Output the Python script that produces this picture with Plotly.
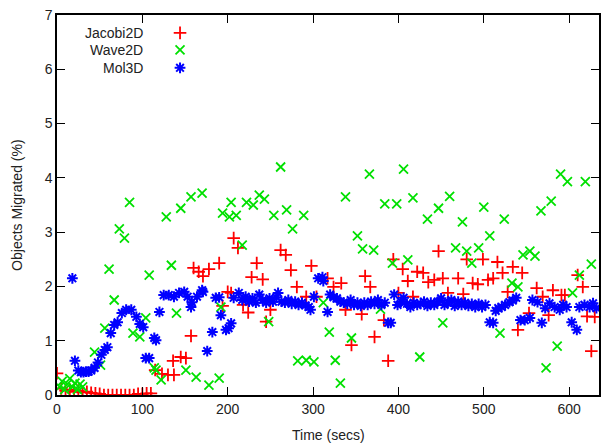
import plotly.graph_objects as go

# ---------------- data ----------------
jac_x = [0, 5, 10, 15, 20, 25, 30, 35, 40, 45, 50, 55, 60, 65, 70, 75, 80, 85, 90, 95, 100, 105, 110,
         115, 123, 130, 136, 137, 145, 151, 157, 160, 166, 171, 178, 190, 194, 200, 204, 207, 212, 218,
         224, 228, 234, 241, 245, 250, 262, 268, 274, 281, 292, 298, 304, 317, 324, 333, 338, 345, 357,
         361, 367, 372, 383, 388, 394, 400, 405, 411, 417, 422, 429, 435, 442, 447, 452, 458, 470, 476,
         480, 487, 493, 499, 505, 511, 516, 522, 528, 534, 540, 545, 553, 562, 569, 576, 581, 591, 595,
         610, 616, 621, 626, 630]
jac_y = [0.40, 0.12, 0.08, 0.10, 0.06, 0.08, 0.05, 0.06, 0.04, 0.03, 0.02, 0.0, 0.0, 0.0, 0.0, 0.0, 0.0,
         0.0, 0.0, 0.02, 0.02, 0.03, 0.03,
         0.46, 0.39, 0.37, 0.63, 0.37, 0.70, 0.68, 1.09, 2.34, 2.27, 2.19, 2.32, 2.43, 1.64, 1.90, 1.88,
         2.89, 2.71, 1.66, 1.52, 2.17, 2.43, 2.13, 1.35, 1.57, 2.67, 2.58, 2.30, 1.99, 1.81, 2.38, 1.81,
         2.15, 1.99, 2.06, 1.57, 0.92, 1.49, 2.19, 1.99, 1.07, 1.38, 0.63, 2.50, 1.88, 2.32, 2.10, 1.81,
         2.27, 2.25, 2.08, 2.12, 2.65, 2.15, 1.88, 2.15, 1.86, 2.50, 2.06, 2.04, 2.50, 2.12, 2.15, 2.45,
         2.25, 1.90, 2.36, 1.20, 2.25, 1.51, 1.97, 1.81, 1.47, 1.93, 1.84, 1.84, 2.21, 1.99, 1.45, 0.81,
         1.44]

wave_x = [3, 6, 9, 12, 15, 18, 21, 24, 27, 30, 44, 51, 56, 61, 67, 73, 79, 85, 89, 97, 104, 108, 114,
          116, 122, 128, 134, 140, 145, 151, 157, 163, 170, 178, 190, 192, 194, 202, 204, 210, 217, 222,
          230, 237, 243, 248, 254, 262, 269, 276, 282, 289, 292, 301, 312, 319, 326, 332, 338, 345, 352,
          358, 366, 371, 379, 384, 393, 398, 406, 411, 417, 425, 434, 447, 452, 460, 467, 475, 480, 486,
          494, 500, 507, 519, 524, 533, 540, 546, 554, 560, 567, 573, 579, 586, 590, 598, 604, 612, 619,
          626]
wave_y = [0.15, 0.25, 0.10, 0.20, 0.30, 0.15, 0.22, 0.10, 0.20, 0.15, 0.79, 0.55, 1.23, 2.32, 1.75, 3.06,
          2.89, 3.55, 1.14, 1.07, 1.42, 2.21, 0.50, 0.46, 0.28, 3.28, 2.39, 1.51, 3.44, 0.46, 3.65, 0.33,
          3.72, 0.18, 0.31, 1.62, 3.35, 3.28, 3.55, 3.31, 2.76, 3.55, 3.50, 3.68, 3.61, 1.35, 3.31, 4.20,
          3.41, 3.06, 0.63, 3.31, 0.64, 0.61, 1.70, 1.16, 0.64, 0.22, 3.65, 1.05, 2.93, 2.69, 4.07, 2.67,
          1.58, 3.52, 2.43, 3.52, 4.16, 2.49, 3.63, 0.70, 3.24, 3.44, 1.33, 3.66, 2.71, 3.19, 2.65, 2.43,
          2.71, 3.46, 2.93, 1.14, 3.24, 2.06, 1.99, 2.58, 2.65, 2.56, 3.39, 0.50, 3.57, 0.90, 4.07, 3.93,
          1.88, 2.21, 3.93, 2.41]

mol_x = [18, 21, 25, 28, 31, 34, 37, 40, 44, 48, 52, 56, 59, 63, 67, 71, 76, 81, 87, 93, 97, 101, 104,
         108, 114, 116, 120, 125, 131, 137, 143, 149, 153, 157, 158, 164, 170, 171, 176, 182, 186, 190,
         192, 198, 201, 204, 207, 213, 217, 221, 225, 229, 233, 237, 241, 245, 249, 253, 257, 259, 263,
         267, 271, 275, 279, 283, 287, 291, 295, 297, 301, 306, 311, 312, 317, 320, 324, 328, 332, 336,
         340, 344, 348, 352, 356, 360, 364, 368, 372, 376, 380, 384, 388, 391, 395, 399, 403, 406, 410,
         414, 418, 422, 426, 430, 434, 438, 442, 446, 450, 454, 458, 462, 466, 470, 474, 478, 482, 486,
         490, 494, 498, 502, 507, 511, 514, 517, 521, 525, 530, 534, 538, 543, 548, 554, 557, 563, 568,
         572, 577, 583, 589, 593, 597, 603, 609, 612, 618, 624, 628, 632]
mol_y = [2.15, 0.63, 0.45, 0.42, 0.42, 0.43, 0.43, 0.45, 0.50, 0.60, 0.74, 0.83, 0.88, 1.14, 1.29, 1.34,
         1.51, 1.57, 1.57, 1.44, 1.31, 1.25, 0.68, 0.68, 1.05, 1.01, 1.53, 1.84, 1.84, 1.81, 1.88, 1.90,
         1.81, 1.62, 1.71, 1.81, 1.93, 1.90, 0.81, 1.16, 1.79, 1.80, 1.47, 1.20, 1.23, 1.32, 1.79, 1.88,
         1.75, 1.81, 1.72, 1.78, 1.70, 1.85, 1.75, 1.70, 1.78, 1.72, 1.80, 1.88, 1.72, 1.70, 1.75, 1.68,
         1.72, 1.66, 1.70, 1.65, 1.62, 1.57, 1.81, 2.15, 2.17, 2.10, 1.53, 1.85, 1.80, 1.78, 1.72, 1.70,
         1.68, 1.75, 1.66, 1.70, 1.64, 1.70, 1.66, 1.72, 1.68, 1.75, 1.66, 1.70, 1.33, 1.33, 1.85, 1.66,
         1.72, 1.79, 1.68, 1.62, 1.70, 1.66, 1.68, 1.72, 1.64, 1.70, 1.66, 1.72, 1.78, 1.66, 1.70, 1.75,
         1.64, 1.72, 1.66, 1.70, 1.64, 1.68, 1.62, 1.68, 1.62, 1.66, 1.34, 1.33, 1.55, 1.60, 1.62, 1.66,
         1.71, 1.74, 1.79, 1.38, 1.38, 1.42, 1.75, 1.71, 1.33, 1.60, 1.69, 1.62, 1.57, 1.66, 1.62, 1.34,
         1.20, 1.62, 1.66, 1.62, 1.69, 1.60]

series_names = ["Jacobi2D", "Wave2D", "Mol3D"]
series_colors = ["#ff0000", "#00e000", "#0000ff"]
series_symbols = ["cross-thin", "x-thin", "asterisk"]
series_widths = [1.8, 1.8, 2.0]

x_ticks = [0, 100, 200, 300, 400, 500, 600]
y_ticks = [0, 1, 2, 3, 4, 5, 6, 7]

FONT = "Liberation Sans, Arial, Helvetica, sans-serif"
FS = 14
TXT = "#222222"

fig = go.Figure()
data = [(jac_x, jac_y), (wave_x, wave_y), (mol_x, mol_y)]
for (xs, ys), name, col, sym, lw in zip(data, series_names, series_colors, series_symbols, series_widths):
    fig.add_trace(go.Scatter(
        x=xs, y=ys, mode="markers", name=name, showlegend=False,
        marker=dict(symbol=sym, size=9, color=col, line=dict(color=col, width=lw)),
        cliponaxis=True,
    ))

# gnuplot-style key: text right-aligned, sample marker to the right
key_rows = [0.953, 0.908, 0.861]
for name, col, sym, lw, ry in zip(series_names, series_colors, series_symbols, series_widths, key_rows):
    fig.add_trace(go.Scatter(
        x=[0.227], y=[ry], xaxis="x2", yaxis="y2", mode="markers", showlegend=False,
        hoverinfo="skip",
        marker=dict(symbol=sym, size=9, color=col, line=dict(color=col, width=lw)),
    ))
    fig.add_annotation(x=0.163, y=ry, xref="paper", yref="paper", text=name, showarrow=False,
                       xanchor="right", yanchor="middle",
                       font=dict(family=FONT, size=FS, color=TXT))

# axis titles
fig.add_annotation(x=0.5, y=-0.105, xref="paper", yref="paper", text="Time (secs)", showarrow=False,
                   xanchor="center", yanchor="middle", font=dict(family=FONT, size=FS, color=TXT))
fig.add_annotation(x=-0.074, y=0.5, xref="paper", yref="paper", text="Objects Migrated (%)",
                   showarrow=False, textangle=-90, xanchor="center", yanchor="middle",
                   font=dict(family=FONT, size=FS, color=TXT))

axis_common = dict(showline=True, linecolor="black", linewidth=1.5, mirror="ticks",
                   ticks="inside", ticklen=8, tickwidth=1, tickcolor="black",
                   showgrid=False, zeroline=False, automargin=False,
                   tickfont=dict(family=FONT, size=FS, color=TXT))

fig.update_layout(
    width=609, height=443,
    margin=dict(l=57, r=10, t=15, b=48),
    paper_bgcolor="white", plot_bgcolor="white",
    xaxis=dict(range=[0, 635], tickvals=x_ticks, ticktext=[str(v) for v in x_ticks], **axis_common),
    yaxis=dict(range=[0, 7], tickvals=y_ticks, ticktext=[str(v) for v in y_ticks], **axis_common),
    xaxis2=dict(overlaying="x", range=[0, 1], visible=False),
    yaxis2=dict(overlaying="y", range=[0, 1], visible=False),
    showlegend=False,
)

fig.write_html("out.html")
